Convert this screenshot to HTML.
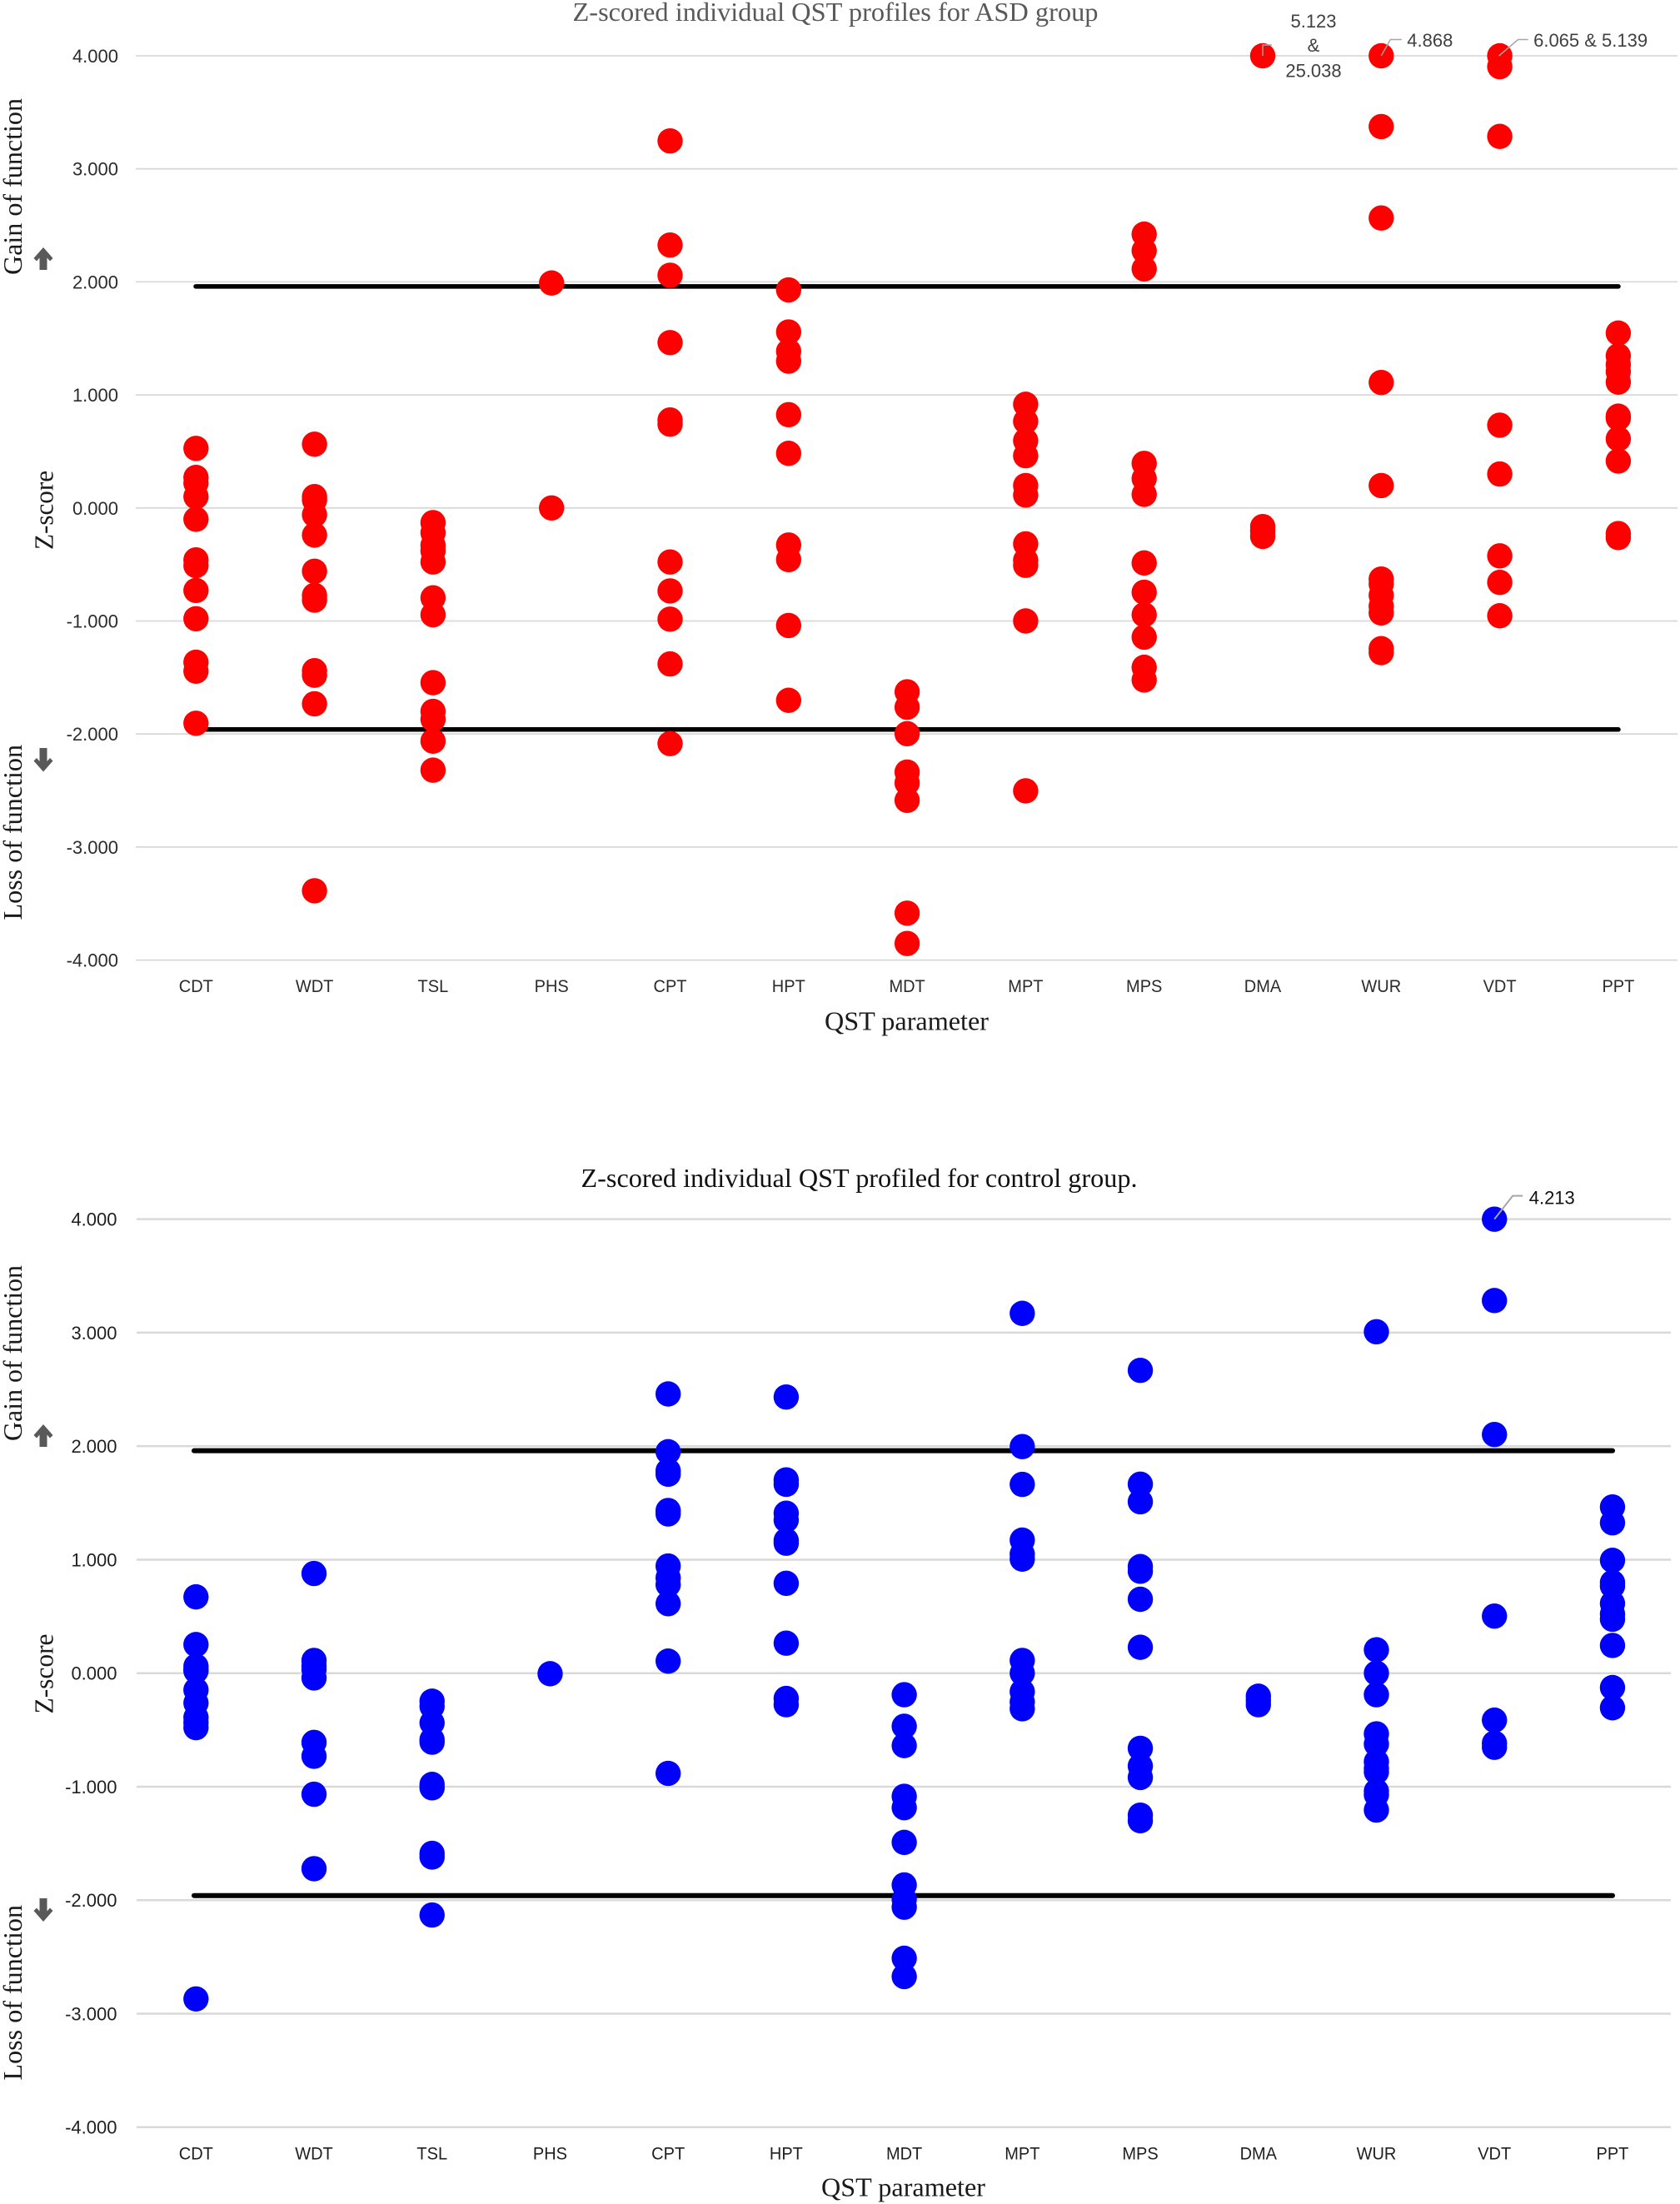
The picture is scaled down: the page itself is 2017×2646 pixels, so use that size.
<!DOCTYPE html>
<html lang="en">
<head>
<meta charset="utf-8">
<title>Z-scored individual QST profiles</title>
<style>
  html, body { margin: 0; padding: 0; background: #ffffff; }
  svg { display: block; }
  .serif { font-family: "Liberation Serif", serif; font-size: 32px; }
  .sans { font-family: "Liberation Sans", sans-serif; font-size: 22px; }
</style>
</head>
<body>
<svg id="figure" xmlns="http://www.w3.org/2000/svg" width="2017" height="2646" viewBox="0 0 2017 2646">
  <rect x="0" y="0" width="2017" height="2646" fill="#ffffff"/>

  <g id="asd-chart"></g>
  <g id="control-chart"></g>

  <text class="serif" x="1003" y="25" text-anchor="middle" fill="#595959" textLength="631" lengthAdjust="spacingAndGlyphs">Z-scored individual QST profiles for ASD group</text>
  <text class="serif" x="1088.5" y="1236.5" text-anchor="middle" fill="#1a1a1a" textLength="197" lengthAdjust="spacingAndGlyphs">QST parameter</text>
  <text class="serif" transform="translate(26,330) rotate(-90)" fill="#1a1a1a" textLength="212" lengthAdjust="spacingAndGlyphs">Gain of function</text>
  <text class="serif" transform="translate(26,1104.5) rotate(-90)" fill="#1a1a1a" textLength="210.5" lengthAdjust="spacingAndGlyphs">Loss of function</text>
  <text class="serif" transform="translate(63.5,660) rotate(-90)" fill="#1a1a1a" textLength="95" lengthAdjust="spacingAndGlyphs">Z-score</text>
  <polygon fill="#595959" points="52,297 63.5,310 60,313.5 56.5,309.5 56.5,324 47.5,324 47.5,309.5 44,313.5 40.5,310"/>
  <polygon fill="#595959" points="52,926.5 63.5,913.5 60,910 56.5,914 56.5,898 47.5,898 47.5,914 44,910 40.5,913.5"/>

  <text class="serif" x="1031.5" y="1425" text-anchor="middle" fill="#111111" textLength="668" lengthAdjust="spacingAndGlyphs">Z-scored individual QST profiled for control group.</text>
  <text class="serif" x="1084.5" y="2636.5" text-anchor="middle" fill="#1a1a1a" textLength="197" lengthAdjust="spacingAndGlyphs">QST parameter</text>
  <text class="serif" transform="translate(26,1730) rotate(-90)" fill="#1a1a1a" textLength="211" lengthAdjust="spacingAndGlyphs">Gain of function</text>
  <text class="serif" transform="translate(26,2497.5) rotate(-90)" fill="#1a1a1a" textLength="210.5" lengthAdjust="spacingAndGlyphs">Loss of function</text>
  <text class="serif" transform="translate(63.5,2057.5) rotate(-90)" fill="#1a1a1a" textLength="96" lengthAdjust="spacingAndGlyphs">Z-score</text>
  <polygon fill="#595959" points="52,1710 63.5,1723 60,1726.5 56.5,1722.5 56.5,1737 47.5,1737 47.5,1722.5 44,1726.5 40.5,1723"/>
  <polygon fill="#595959" points="52,2307 63.5,2294 60,2290.5 56.5,2294.5 56.5,2279 47.5,2279 47.5,2294.5 44,2290.5 40.5,2294"/>
</svg>

<script>
// ---- shared labels ----
const categories = ['CDT','WDT','TSL','PHS','CPT','HPT','MDT','MPT','MPS','DMA','WUR','VDT','PPT'];
const yTicks = [4, 3, 2, 1, 0, -1, -2, -3, -4];
const thresholds = [1.96, -1.96];

// ---- ASD group z-scores (values above 4 are plotted at the truncated axis top) ----
const asdCDT = [0.527,0.27,0.22,0.10,-0.10,-0.46,-0.51,-0.73,-0.98,-1.365,-1.444,-1.905];
const asdWDT = [0.564,0.10,0.07,-0.06,-0.24,-0.56,-0.773,-0.815,-1.44,-1.48,-1.733,-3.387];
const asdTSL = [-0.13,-0.22,-0.33,-0.38,-0.478,-0.795,-0.945,-1.546,-1.80,-1.87,-2.063,-2.32];
const asdPHS = [1.99,0.0];
const asdCPT = [3.247,2.326,2.059,1.463,0.778,0.741,-0.478,-0.734,-0.984,-1.38,-2.085];
const asdHPT = [1.929,1.557,1.386,1.299,0.825,0.483,-0.328,-0.457,-1.04,-1.702];
const asdMDT = [-1.627,-1.763,-1.997,-2.337,-2.433,-2.587,-3.585,-3.853];
const asdMPT = [0.917,0.766,0.595,0.462,0.198,0.114,-0.318,-0.463,-0.508,-1.0,-2.503];
const asdMPS = [2.422,2.276,2.115,0.394,0.26,0.12,-0.487,-0.746,-0.945,-1.143,-1.41,-1.522];
const asdDMA = [4.0,-0.165,-0.205,-0.252];
const asdWUR = [4.0,3.374,2.565,1.11,0.198,-0.629,-0.673,-0.773,-0.87,-0.929,-1.245,-1.28];
const asdVDT = [4.0,3.904,3.287,0.732,0.30,-0.424,-0.659,-0.954];
const asdPPT = [1.547,1.346,1.268,1.206,1.113,0.812,0.794,0.611,0.415,-0.227,-0.262];
const asdSeries = [asdCDT,asdWDT,asdTSL,asdPHS,asdCPT,asdHPT,asdMDT,asdMPT,asdMPS,asdDMA,asdWUR,asdVDT,asdPPT];

// ---- Control group z-scores ----
const ctlCDT = [0.672,0.252,0.061,0.031,0.02,-0.148,-0.263,-0.39,-0.435,-0.48,-2.87];
const ctlWDT = [0.878,0.112,0.061,0.034,-0.042,-0.61,-0.732,-1.067,-1.723];
const ctlTSL = [-0.247,-0.293,-0.438,-0.586,-0.608,-0.98,-1.01,-1.588,-1.62,-2.131];
const ctlPHS = [-0.005];
const ctlCPT = [2.46,1.951,1.783,1.753,1.433,1.403,0.944,0.84,0.78,0.612,0.106,-0.883];
const ctlHPT = [2.433,1.703,1.664,1.409,1.349,1.169,1.145,0.792,0.264,-0.223,-0.278];
const ctlMDT = [-0.19,-0.468,-0.638,-1.085,-1.185,-1.491,-1.866,-1.992,-2.062,-2.512,-2.673];
const ctlMPT = [3.17,1.996,1.663,1.172,1.049,1.005,0.112,0.0,-0.163,-0.254,-0.314];
const ctlMPS = [2.668,1.665,1.51,0.939,0.898,0.651,0.228,-0.662,-0.819,-0.919,-1.251,-1.3];
const ctlDMA = [-0.203,-0.24,-0.278];
const ctlWUR = [3.008,0.206,0.0,-0.19,-0.535,-0.625,-0.78,-0.84,-0.87,-1.04,-1.07,-1.206];
const ctlVDT = [4.0,3.283,2.103,0.503,-0.414,-0.616,-0.653];
const ctlPPT = [1.464,1.325,0.994,0.799,0.768,0.614,0.521,0.475,0.244,-0.127,-0.305];
const ctlSeries = [ctlCDT,ctlWDT,ctlTSL,ctlPHS,ctlCPT,ctlHPT,ctlMDT,ctlMPT,ctlMPS,ctlDMA,ctlWUR,ctlVDT,ctlPPT];

const NS = 'http://www.w3.org/2000/svg';

function addText(parent, str, x, y, anchor, fill) {
  const t = document.createElementNS(NS, 'text');
  t.setAttribute('class', 'sans');
  t.setAttribute('x', x);
  t.setAttribute('y', y);
  t.setAttribute('text-anchor', anchor);
  t.setAttribute('fill', fill);
  t.textContent = str;
  parent.appendChild(t);
  return t;
}

function addLine(parent, x1, y1, x2, y2, stroke, width, cap) {
  const l = document.createElementNS(NS, 'line');
  l.setAttribute('x1', x1);
  l.setAttribute('y1', y1);
  l.setAttribute('x2', x2);
  l.setAttribute('y2', y2);
  l.setAttribute('stroke', stroke);
  l.setAttribute('stroke-width', width);
  if (cap) l.setAttribute('stroke-linecap', cap);
  parent.appendChild(l);
  return l;
}

function drawChart(root, series, color, cfg) {
  const xScale = i => cfg.x0 + cfg.xStep * i;
  const yScale = v => cfg.yZero - cfg.yStep * v;

  yTicks.forEach(v => {
    const line = addLine(root, cfg.gridLeft, yScale(v), cfg.gridRight, yScale(v), '#d9d9d9', cfg.gridWidth);
    
    
    const label = addText(root, v.toFixed(3), cfg.tickRight, yScale(v) + 8, 'end', cfg.textColor);
    
    
  });

  thresholds.forEach(v => {
    const line = addLine(root, cfg.lineLeft, yScale(v), cfg.lineRight, yScale(v), '#000000', cfg.lineWidth, 'round');
    
    
  });

  categories.forEach((name, i) => {
    const label = addText(root, name, xScale(i), cfg.catBaseline, 'middle', cfg.textColor);
    
    
    label.style.fontSize = '21.5px';
    const w = label.getComputedTextLength();
    label.setAttribute('textLength', (w * 0.93).toFixed(1));
    label.setAttribute('lengthAdjust', 'spacingAndGlyphs');

    series[i].forEach(v => {
      const dot = document.createElementNS(NS, 'circle');
      
      
      dot.setAttribute('cx', xScale(i));
      dot.setAttribute('cy', yScale(v));
      dot.setAttribute('r', 15.2);
      dot.setAttribute('fill', color);
      root.appendChild(dot);
    });
  });

  return { xScale, yScale };
}

function leader(root, px, py, midX, midY, endX, stroke, width) {
  const p = document.createElementNS(NS, 'polyline');
  
  
  p.setAttribute('points', px + ',' + py + ' ' + midX + ',' + midY + ' ' + endX + ',' + midY);
  p.setAttribute('fill', 'none');
  p.setAttribute('stroke', stroke);
  p.setAttribute('stroke-width', width);
  root.appendChild(p);
}

// ---- ASD chart ----
const asdRoot = document.getElementById('asd-chart');
const asdAxes = drawChart(asdRoot, asdSeries, '#ff0000', {
  x0: 235.3, xStep: 142.3, yZero: 609.8, yStep: 135.7,
  gridLeft: 163, gridRight: 2014, gridWidth: 1.8,
  lineLeft: 235, lineRight: 1943, lineWidth: 5.5,
  tickRight: 142, catBaseline: 1191, textColor: '#2b2b2b'
});

const dmaX = asdAxes.xScale(categories.indexOf('DMA'));
const wurX = asdAxes.xScale(categories.indexOf('WUR'));
const vdtX = asdAxes.xScale(categories.indexOf('VDT'));
const topY = asdAxes.yScale(4);
leader(asdRoot, dmaX, topY, dmaX, topY - 13, dmaX + 11, '#a6a6a6', 1.5);
leader(asdRoot, wurX, topY, wurX + 11, topY - 19.5, wurX + 24.5, '#a6a6a6', 1.5);
leader(asdRoot, vdtX - 1, topY, vdtX + 22, topY - 19.5, vdtX + 34, '#a6a6a6', 1.5);

const asdNote1 = addText(asdRoot, '5.123', dmaX + 61, topY - 34, 'middle', '#404040');


const asdNote2 = addText(asdRoot, '&', dmaX + 61, topY - 5, 'middle', '#404040');


const asdNote3 = addText(asdRoot, '25.038', dmaX + 61, topY + 25.5, 'middle', '#404040');


const asdNote4 = addText(asdRoot, '4.868', wurX + 31, topY - 11, 'start', '#404040');


const asdNote5 = addText(asdRoot, '6.065 & 5.139', vdtX + 40.5, topY - 11, 'start', '#404040');



// ---- Control chart ----
const ctlRoot = document.getElementById('control-chart');
const ctlAxes = drawChart(ctlRoot, ctlSeries, '#0000ff', {
  x0: 235.3, xStep: 141.72, yZero: 2008.7, yStep: 136.26,
  gridLeft: 164, gridRight: 2006, gridWidth: 2.5,
  lineLeft: 233, lineRight: 1936, lineWidth: 6,
  tickRight: 140.5, catBaseline: 2592.5, textColor: '#1f1f1f'
});

const ctlVdtX = ctlAxes.xScale(categories.indexOf('VDT'));
const ctlTopY = ctlAxes.yScale(4);
leader(ctlRoot, ctlVdtX, ctlTopY, ctlVdtX + 22, ctlTopY - 28, ctlVdtX + 34, '#a6a6a6', 2);
const ctlNote = addText(ctlRoot, '4.213', ctlVdtX + 41.5, ctlTopY - 18, 'start', '#111111');


</script>
</body>
</html>
